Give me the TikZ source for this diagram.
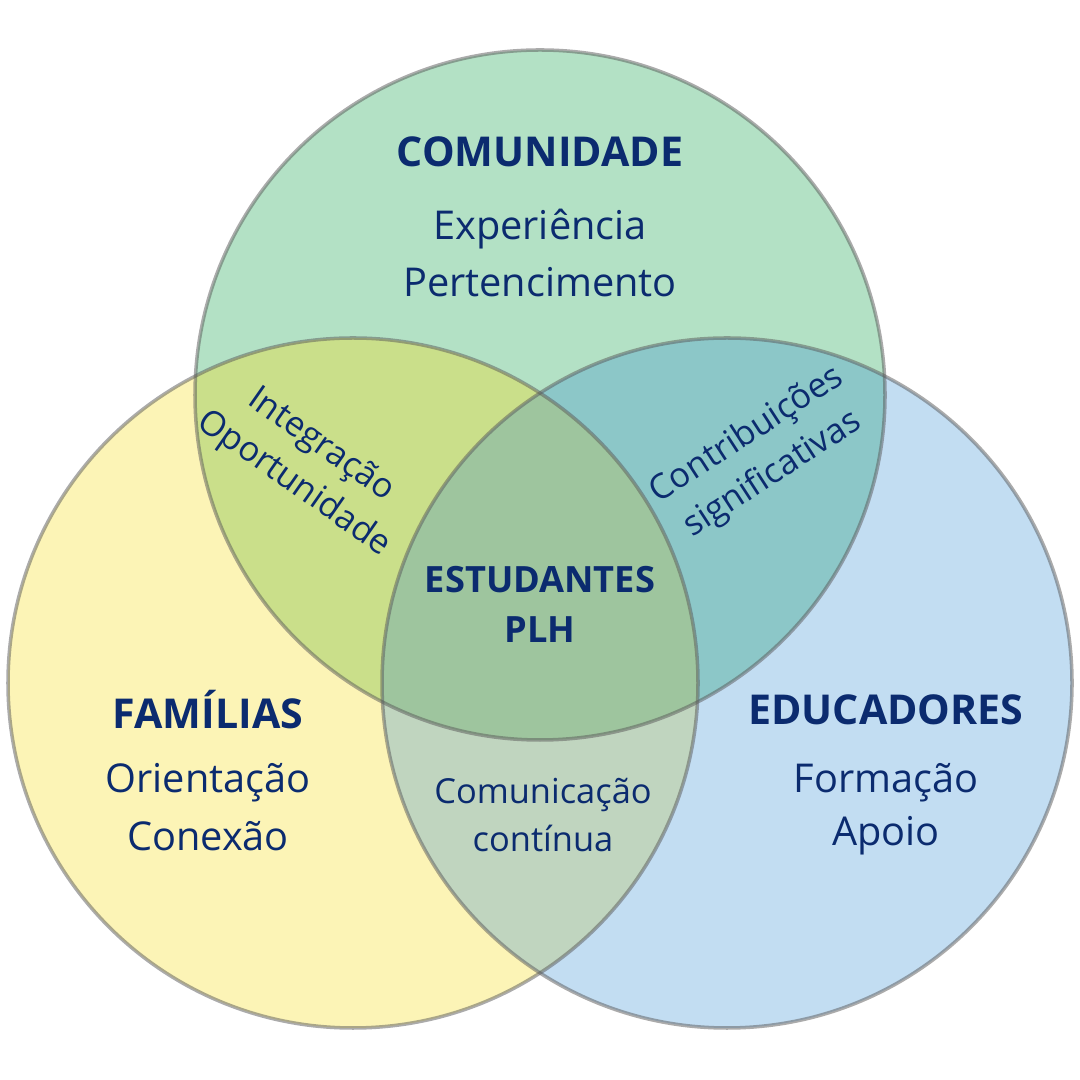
\documentclass[tikz,border=0pt]{standalone}
\usepackage{fontspec}
\setmainfont{Open Sans}
\usepackage{xcolor}
\usepackage{tikz}
\usetikzlibrary{positioning}

\definecolor{navy}{HTML}{0B2B6F}
\definecolor{comgreen}{HTML}{B3E1C5}
\definecolor{famyellow}{HTML}{FCF4B6}
\definecolor{edublue}{HTML}{C2DDF2}
\definecolor{comfam}{HTML}{CADF8A}
\definecolor{comedu}{HTML}{8CC7C8}
\definecolor{famedu}{HTML}{C0D5BF}
\definecolor{allthree}{HTML}{9EC59E}

\tikzset{
    ring/.style={draw=black!65, draw opacity=0.5, line width=1pt},
    head/.style={text=navy, font=\fontsize{11.7}{14}\selectfont\bfseries},
    core/.style={text=navy, font=\fontsize{10.3}{12}\selectfont\bfseries},
    item/.style={text=navy, font=\fontsize{11.3}{13}\selectfont},
    small/.style={text=navy, align=center, font=\fontsize{9.8}{13.4}\selectfont}
}

\begin{document}
\begin{tikzpicture}
    \useasboundingbox (0,0) rectangle (10.8,10.8);
    \fill[white] (0,0) rectangle (10.8,10.8);

    % circle centres
    \coordinate (cCom) at (5.40,6.85);
    \coordinate (cFam) at (3.53,3.97);
    \coordinate (cEdu) at (7.27,3.97);

    % base fills
    \fill[comgreen] (cCom) circle (3.45);
    \fill[famyellow] (cFam) circle (3.45);
    \fill[edublue] (cEdu) circle (3.45);

    % overlaps
    \begin{scope}
        \clip (cCom) circle (3.45);
        \fill[comfam] (cFam) circle (3.45);
        \fill[comedu] (cEdu) circle (3.45);
    \end{scope}
    \begin{scope}
        \clip (cFam) circle (3.45);
        \fill[famedu] (cEdu) circle (3.45);
    \end{scope}
    \begin{scope}
        \clip (cCom) circle (3.45);
        \clip (cFam) circle (3.45);
        \fill[allthree] (cEdu) circle (3.45);
    \end{scope}

    % outlines
    \draw[ring] (cCom) circle (3.45);
    \draw[ring] (cFam) circle (3.45);
    \draw[ring] (cEdu) circle (3.45);

    % comunidade
    \node[head] (comTitle) at (5.40,9.28) {COMUNIDADE};
    \node[item] (comA) at (5.40,8.51) {Experiência};
    \node[item] (comB) at (5.40,7.98) {Pertencimento};

    % familias
    \node[head] (famTitle) at (2.08,3.70) {FAMÍLIAS};
    \node[item] (famA) at (2.08,2.97) {Orientação};
    \node[item] (famB) at (2.08,2.44) {Conexão};

    % educadores
    \node[head] (eduTitle) at (8.86,3.70) {EDUCADORES};
    \node[item] (eduA) at (8.86,2.97) {Formação};
    \node[item] (eduB) at (8.86,2.44) {Apoio};

    % centre
    \node[core] (estA) at (5.40,5.00) {ESTUDANTES};
    \node[core] (estB) at (5.40,4.50) {PLH};

    % pairwise
    \node[small, rotate=-35] (comFam) at (3.07,6.15) {Integração\\Oportunidade};
    \node[small, rotate=33] (comEdu) at (7.60,6.25) {Contribuições\\significativas};
    \node[small] (famEdu) at (5.43,2.65) {Comunicação\\contínua};
\end{tikzpicture}
\end{document}
